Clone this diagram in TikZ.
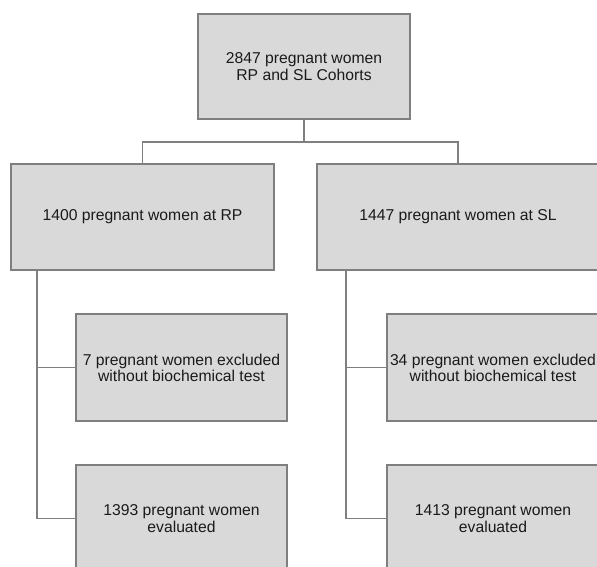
\documentclass[tikz,border=0pt]{standalone}
\usepackage{fontspec}
\setmainfont{Liberation Sans}
\definecolor{boxfill}{HTML}{D9D9D9}
\definecolor{boxline}{HTML}{7F7F7F}
\definecolor{txt}{HTML}{1A1A1A}
\begin{document}
\begin{tikzpicture}[x=1pt,y=1pt,
  flowbox/.style={draw=boxline, fill=boxfill, line width=1.4pt, rectangle, inner sep=0pt,
    align=center, text=txt, font=\fontsize{15.7}{16.2}\selectfont},
  conn/.style={draw=boxline, line width=1.3pt}]
\useasboundingbox (0,0) rectangle (597,-566);
\begin{scope}
\clip (0,0) rectangle (597,-566);
\node[flowbox, minimum width=212, minimum height=105] (top) at (304,-66.5) {2847 pregnant women\\RP and SL Cohorts};
\node[flowbox, minimum width=263, minimum height=106] (L1) at (142.5,-217) {1400 pregnant women at RP};
\node[flowbox, minimum width=282, minimum height=106] (R1) at (458,-217) {1447 pregnant women at SL};
\node[flowbox, minimum width=211, minimum height=107] (LA) at (181.5,-367.5) {7 pregnant women excluded\\without biochemical test};
\node[flowbox, minimum width=211, minimum height=107] (LB) at (181.5,-518.5) {1393 pregnant women\\evaluated};
\node[flowbox, minimum width=212, minimum height=107] (RA) at (493,-367.5) {34 pregnant women excluded\\without biochemical test};
\node[flowbox, minimum width=212, minimum height=107] (RB) at (493,-518.5) {1413 pregnant women\\evaluated};
\coordinate (bus) at (304,-142);
\coordinate (lt) at (37,-270);
\coordinate (rt) at (346,-270);
\draw[conn] (top.south) -- (bus) -| (L1.north);
\draw[conn] (bus) -| (R1.north);
\draw[conn] (lt) |- (LA.west);
\draw[conn] (lt) |- (LB.west);
\draw[conn] (rt) |- (RA.west);
\draw[conn] (rt) |- (RB.west);
\end{scope}
\end{tikzpicture}
\end{document}
